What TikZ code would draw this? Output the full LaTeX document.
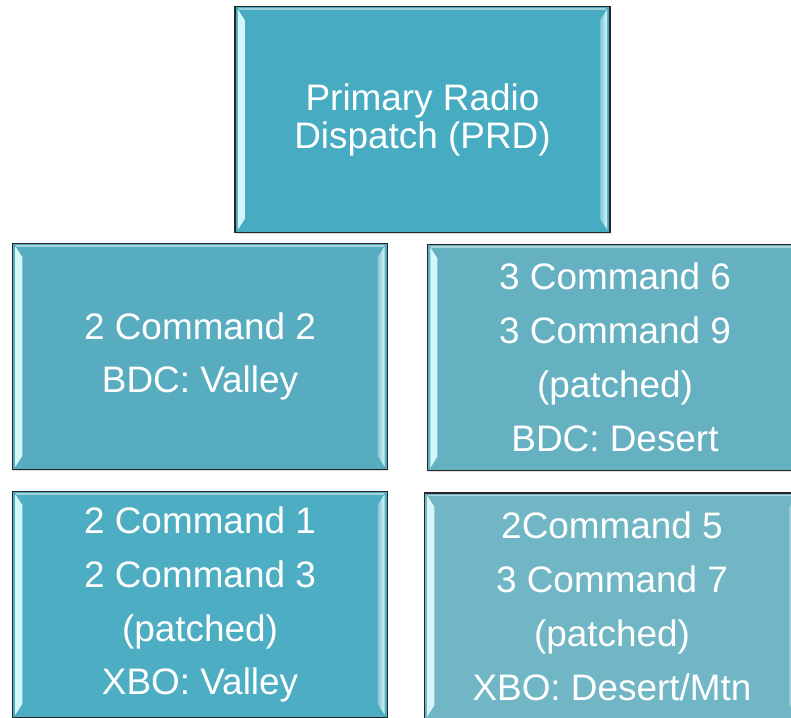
\documentclass[tikz,border=0pt]{standalone}
\usepackage{fontspec}
\setmainfont{Liberation Sans}
\usetikzlibrary{positioning,shadows}

\definecolor{prdcol}{HTML}{47ACC2}
\definecolor{valcol}{HTML}{57ADBF}
\definecolor{descol}{HTML}{66B1C1}
\definecolor{xvalcol}{HTML}{4DADC2}
\definecolor{xdescol}{HTML}{70B6C4}
\definecolor{bevel}{HTML}{D6F6FA}

\begin{document}
\begin{tikzpicture}[x=0.03cm,y=-0.03cm,
	box/.style={draw=black!85, line width=1.2pt, fill=#1, text=white, align=center,
		minimum width=11.25cm, minimum height=6.78cm, inner sep=0pt,
		font=\fontsize{31.5}{46}\selectfont,
		drop shadow={opacity=0.25, shadow xshift=0.6pt, shadow yshift=-1.2pt},
		path picture={
			% light bevel strips down both sides
			\shade[left color=bevel, right color=#1!70!white]
				([shift={(3,3)}]path picture bounding box.north west) -- ([shift={(10,14)}]path picture bounding box.north west)
				-- ([shift={(10,-14)}]path picture bounding box.south west) -- ([shift={(3,-3)}]path picture bounding box.south west) -- cycle;
			\shade[left color=#1!70!white, right color=bevel]
				([shift={(-10,14)}]path picture bounding box.north east) -- ([shift={(-3,3)}]path picture bounding box.north east)
				-- ([shift={(-3,-3)}]path picture bounding box.south east) -- ([shift={(-10,-14)}]path picture bounding box.south east) -- cycle;
			\draw[#1!55!white, line width=1pt]
				([shift={(4,2.5)}]path picture bounding box.north west) -- ([shift={(-4,2.5)}]path picture bounding box.north east);
		}}]
	\clip (0,0) rectangle (791,717);
	\useasboundingbox (0,0) rectangle (791,717);

	\node (prd) [box=prdcol, font=\fontsize{31.5}{32.5}\selectfont] at (422.5,119.5) {Primary Radio\\Dispatch (PRD)};
	\node (bdcv) [box=valcol] at (200,356.5) {2 Command 2\\BDC: Valley};
	\node (bdcd) [box=descol] at (615,357.5) {3 Command 6\\3 Command 9\\(patched)\\BDC: Desert};
	\node (xbov) [box=xvalcol] at (200,604.5) {2 Command 1\\2 Command 3\\(patched)\\XBO: Valley};
	\node (xbod) [box=xdescol] at (612,606) {2Command 5\\3 Command 7\\(patched)\\XBO: Desert/Mtn};
\end{tikzpicture}
\end{document}
